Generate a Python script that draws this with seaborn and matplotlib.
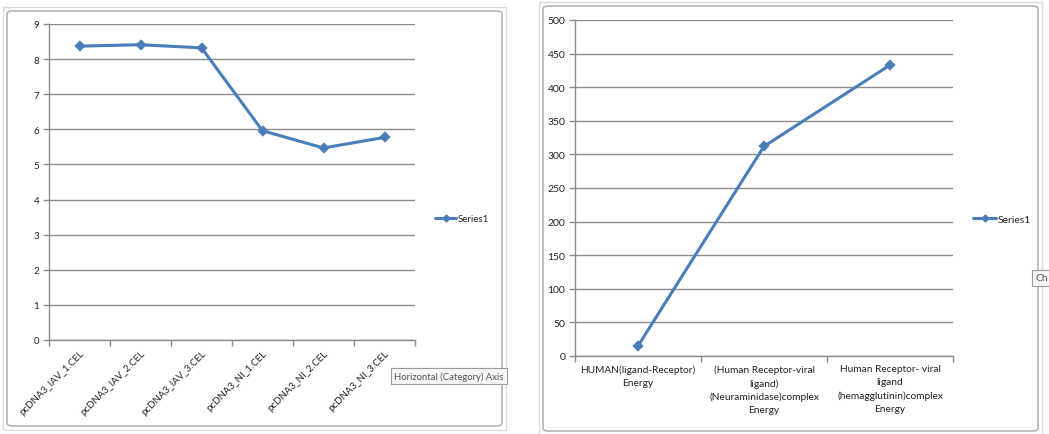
import matplotlib
matplotlib.use("Agg")
import matplotlib.pyplot as plt
import seaborn as sns
import pandas as pd
from matplotlib.lines import Line2D
from matplotlib.patches import FancyBboxPatch, Rectangle

# Expression values per array (left chart)
samples = ["pcDNA3_IAV_1.CEL", "pcDNA3_IAV_2.CEL", "pcDNA3_IAV_3.CEL",
           "pcDNA3_NI_1.CEL", "pcDNA3_NI_2.CEL", "pcDNA3_NI_3.CEL"]
expression = [8.37, 8.41, 8.32, 5.96, 5.47, 5.77]
left_yticks = [0, 1, 2, 3, 4, 5, 6, 7, 8, 9]

# Complex energies (right chart)
complexes = ["HUMAN(ligand-Receptor)\nEnergy",
             "(Human Receptor-viral\nligand)\n(Neuraminidase)complex\nEnergy",
             "Human Receptor- viral\nligand\n(hemagglutinin)complex\nEnergy"]
energy = [15, 312, 433]
right_yticks = [0, 50, 100, 150, 200, 250, 300, 350, 400, 450, 500]

series_name = "Series1"

sns.set_theme(style="white")
plt.rcParams["font.family"] = ["Lato", "DejaVu Sans"]

W, H = 1049, 435
fig = plt.figure(figsize=(W / 100, H / 100), dpi=100)
fig.patch.set_facecolor("white")

LINE = "#4a7ebb"
GRID = "#8c8c8c"
TEXT = "#222222"


def px_axes(x0, y0, x1, y1):
    return fig.add_axes([x0 / W, 1 - y1 / H, (x1 - x0) / W, (y1 - y0) / H])


def panel_frame(x0, y0, x1, y1):
    fig.patches.append(Rectangle((x0 / W - 4 / W, 1 - (y1 + 4) / H),
                                 (x1 - x0 + 8) / W, (y1 - y0 + 8) / H,
                                 transform=fig.transFigure, fill=False,
                                 edgecolor="#dcdcdc", linewidth=1.0, zorder=0))
    fig.patches.append(FancyBboxPatch((x0 / W, 1 - y1 / H),
                                      (x1 - x0) / W, (y1 - y0) / H,
                                      boxstyle="round,pad=0,rounding_size=0.006",
                                      transform=fig.transFigure, fill=False,
                                      edgecolor="#b4b4b4", linewidth=1.2, zorder=0))


def style_axes(ax, yticks, n, fs):
    ax.set_ylim(yticks[0], yticks[-1])
    ax.set_yticks(yticks)
    ax.set_xlim(-0.5, n - 0.5)
    ax.yaxis.grid(True, color=GRID, linewidth=1.0)
    ax.xaxis.grid(False)
    ax.set_axisbelow(True)
    for s in ("top", "right"):
        ax.spines[s].set_visible(False)
    for s in ("left", "bottom"):
        ax.spines[s].set_color(GRID)
        ax.spines[s].set_linewidth(1.0)
    ax.set_xticks([i - 0.5 for i in range(n + 1)], minor=True)
    ax.tick_params(axis="x", which="minor", length=4, color=GRID, width=1, direction="out", bottom=True)
    ax.tick_params(axis="x", which="major", length=0, pad=6)
    ax.tick_params(axis="y", length=4, color=GRID, width=1, direction="out", left=True,
                   labelsize=fs, labelcolor=TEXT, pad=3)
    ax.set_xlabel("")
    ax.set_ylabel("")
    ax.set_facecolor("white")


def legend_at(x, y, fs):
    h = Line2D([], [], color=LINE, linewidth=2.2, marker="D", markersize=3.5)
    fig.legend([h], [series_name], loc="center left", bbox_to_anchor=(x / W, 1 - y / H),
               frameon=False, fontsize=fs, handlelength=2.2, handletextpad=0.15,
               borderpad=0, labelcolor=TEXT)


# Left chart
panel_frame(7, 12, 502, 427)
ax1 = px_axes(49, 25, 415, 341)
df1 = pd.DataFrame({"sample": samples, "value": expression})
sns.pointplot(data=df1, x="sample", y="value", ax=ax1, color=LINE, markers="D",
              linestyles="-", errorbar=None, markersize=4, linewidth=2.2)
style_axes(ax1, left_yticks, len(samples), 7)
ax1.set_xticks(range(len(samples)))
ax1.set_xticklabels(samples, rotation=45, ha="right", rotation_mode="anchor",
                    fontsize=7, color=TEXT)
legend_at(430, 220, 7)

# Right chart
panel_frame(543, 7, 1038, 432)
ax2 = px_axes(575, 21, 953, 357)
df2 = pd.DataFrame({"complex": complexes, "value": energy})
sns.pointplot(data=df2, x="complex", y="value", ax=ax2, color=LINE, markers="D",
              linestyles="-", errorbar=None, markersize=4, linewidth=2.2)
style_axes(ax2, right_yticks, len(complexes), 7.5)
ax2.set_xticks(range(len(complexes)))
ax2.set_xticklabels(complexes, fontsize=7.3, color=TEXT, linespacing=1.55, va="top")
legend_at(968, 220, 7.5)

# Hover tips
fig.text(449 / W, 1 - 377 / H, "Horizontal (Category) Axis", ha="center", va="center",
         fontsize=6.8, color="#555555",
         bbox=dict(boxstyle="square,pad=0.35", facecolor="#f7f7f7", edgecolor="#9a9a9a",
                   linewidth=0.8))
fig.text(1036 / W, 1 - 279 / H, "Ch", ha="left", va="center", fontsize=7.5, color="#555555",
         bbox=dict(boxstyle="square,pad=0.35", facecolor="#f7f7f7", edgecolor="#9a9a9a",
                   linewidth=0.8))

fig.savefig("out.png", dpi=100, facecolor="white")
